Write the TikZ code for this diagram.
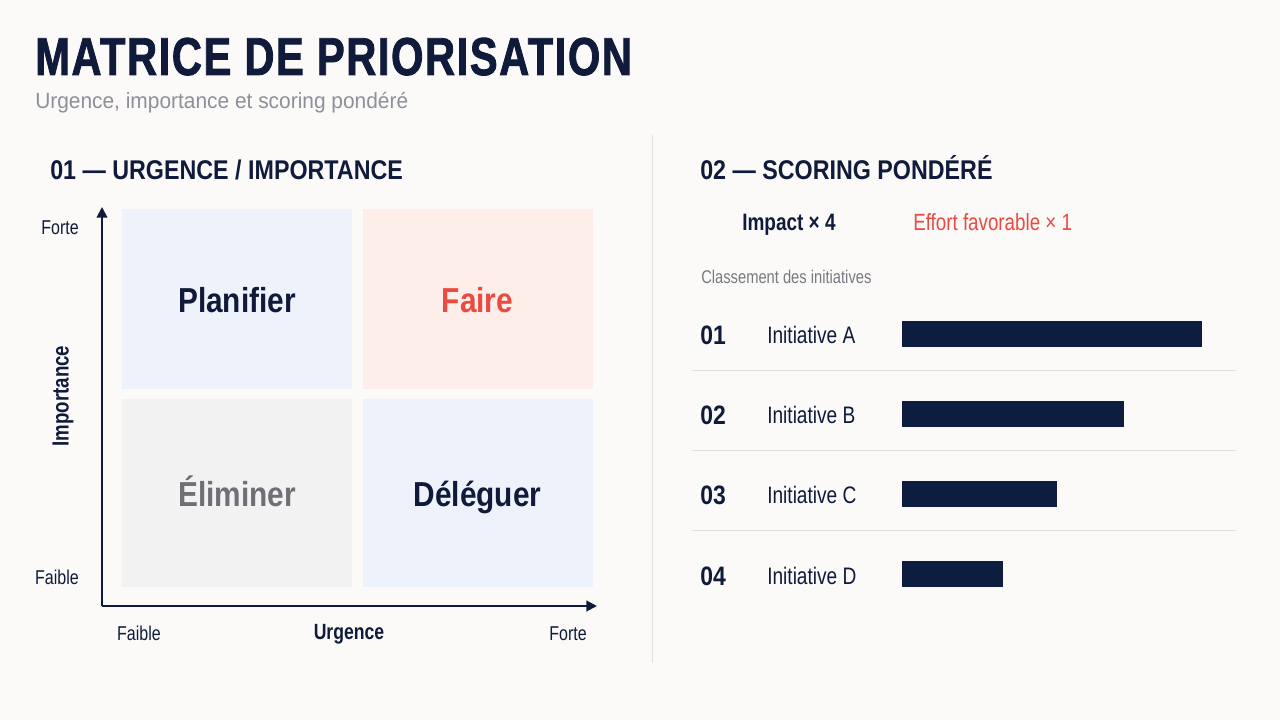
\documentclass[tikz,border=0pt]{standalone}
\usepackage{fontspec}
\setmainfont{Liberation Sans}[FakeStretch=0.80]
\newfontfamily\headfont{Liberation Sans}[FakeStretch=0.86]
\newfontfamily\subfont{Liberation Sans}[FakeStretch=0.95]
\newfontfamily\titlefont{Liberation Sans}[FakeStretch=0.78, LetterSpace=3, BoldFeatures={FakeBold=1.5}]
\usetikzlibrary{arrows.meta}
\definecolor{bg}{HTML}{FBFAF9}
\definecolor{navy}{HTML}{101B3B}
\definecolor{barnavy}{HTML}{0C1D3F}
\definecolor{accent}{HTML}{EB4A40}
\definecolor{subgray}{HTML}{8C9099}
\definecolor{softgray}{HTML}{6E7075}
\definecolor{rulegray}{HTML}{DEDFE1}
\definecolor{bluebg}{HTML}{EEF2FA}
\definecolor{pinkbg}{HTML}{FDEEEA}
\definecolor{graybg}{HTML}{F2F2F3}
\tikzset{
  quad/.style={inner sep=0pt, minimum width=172.5pt, text height=20pt, text depth=0pt, font=\headfont\fontsize{26}{30}\selectfont\bfseries},
  axis/.style={navy, line width=1.5pt, -{Triangle[length=8pt,width=8pt]}},
  axlabel/.style={inner sep=0pt, text=navy, font=\fontsize{15}{17}\selectfont},
  heading/.style={inner sep=0pt, anchor=base west, text=navy, font=\headfont\fontsize{20.3}{24}\selectfont\bfseries},
  rank/.style={inner sep=0pt, anchor=base west, text=navy, font=\headfont\fontsize{20}{23}\selectfont\bfseries},
  item/.style={inner sep=0pt, anchor=base west, text=navy, font=\fontsize{17.9}{20}\selectfont},
  sep/.style={rulegray, line width=0.75pt}
}
\begin{document}
\begin{tikzpicture}[x=0.75pt,y=-0.75pt]
	\fill[bg] (0,0) rectangle (1280,720);
	\useasboundingbox (0,0) rectangle (1280,720);
	% titre
	\node[inner sep=0pt, anchor=base west, text=navy, font=\titlefont\fontsize{40}{44}\selectfont\bfseries] (title) at (35,75) {MATRICE DE PRIORISATION};
	\node[inner sep=0pt, anchor=base west, text=subgray, font=\subfont\fontsize{16.5}{19}\selectfont] (subtitle) at (35,109) {Urgence, importance et scoring pondéré};
	\draw[rulegray, line width=0.75pt] (652,135) -- (652,663);
	% partie 01
	\node[heading] (headA) at (50,180) {01 — URGENCE / IMPORTANCE};
	\node[quad, fill=bluebg, minimum height=135pt, text=navy] (plan) at (237,299) {Planifier};
	\node[quad, fill=pinkbg, minimum height=135pt, text=accent] (faire) at (477.5,299) {Faire};
	\node[quad, fill=graybg, minimum height=141pt, text=softgray] (elim) at (237,493) {Éliminer};
	\node[quad, fill=bluebg, minimum height=141pt, text=navy] (deleg) at (477.5,493) {Déléguer};
	\coordinate (o) at (102,606);
	\coordinate (ytip) at (102,207);
	\coordinate (xtip) at (597,606);
	\draw[axis] (o) -- (ytip);
	\draw[axis] (o) -- (xtip);
	\node[axlabel, anchor=base east] (yhigh) at (79,234) {Forte};
	\node[axlabel, anchor=base east] (ylow) at (79,584) {Faible};
	\node[axlabel, rotate=90, font=\fontsize{17.5}{20}\selectfont\bfseries] (ylab) at (63,396) {Importance};
	\node[axlabel, anchor=base] (xlow) at (139,640) {Faible};
	\node[axlabel, anchor=base, font=\fontsize{16.5}{19}\selectfont\bfseries] (xlab) at (349,639) {Urgence};
	\node[axlabel, anchor=base] (xhigh) at (568,640) {Forte};
	% partie 02
	\node[heading] (headB) at (700,180) {02 — SCORING PONDÉRÉ};
	\node[inner sep=0pt, anchor=base west, text=navy, font=\fontsize{17.8}{20}\selectfont\bfseries] (wimpact) at (742,231) {Impact × 4};
	\node[inner sep=0pt, anchor=base west, text=accent, font=\fontsize{17.6}{20}\selectfont] (weffort) at (913,231) {Effort favorable × 1};
	\node[inner sep=0pt, anchor=base west, text=subgray!85!black, font=\fontsize{13.8}{16}\selectfont] (rankhead) at (701,283) {Classement des initiatives};
	\node[rank] (r1) at (700,344) {01};
	\node[item] (i1) at (767,343) {Initiative A};
	\fill[barnavy] (902,321) rectangle (1202,347);
	\draw[sep] (692,370) -- (1236,370);
	\node[rank] (r2) at (700,424) {02};
	\node[item] (i2) at (767,423) {Initiative B};
	\fill[barnavy] (902,401) rectangle (1124,427);
	\draw[sep] (692,450) -- (1236,450);
	\node[rank] (r3) at (700,504) {03};
	\node[item] (i3) at (767,503) {Initiative C};
	\fill[barnavy] (902,481) rectangle (1057,507);
	\draw[sep] (692,530) -- (1236,530);
	\node[rank] (r4) at (700,585) {04};
	\node[item] (i4) at (767,584) {Initiative D};
	\fill[barnavy] (902,561) rectangle (1003,587);
\end{tikzpicture}
\end{document}
